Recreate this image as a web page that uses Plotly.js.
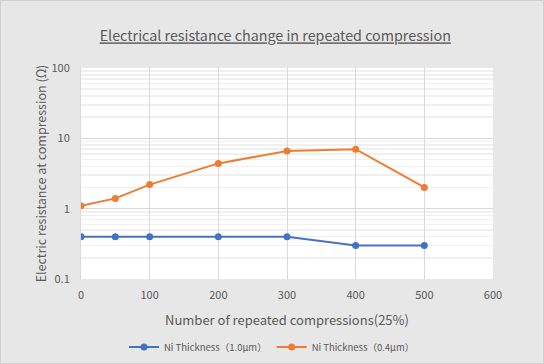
<!DOCTYPE html>
<html>
<head>
<meta charset="utf-8">
<script src="https://cdn.plot.ly/plotly-3.0.1.min.js"></script>
<style>html,body{margin:0;padding:0;background:#e7e7e7;}#wrap{position:relative;width:544px;height:364px;}#chart{width:544px;height:364px;}#frame{position:absolute;left:0;top:0;width:542px;height:362px;border:1px solid #cfcfcf;pointer-events:none;}</style>
</head>
<body>
<div id="wrap"><div id="chart"></div><div id="frame"></div></div>
<script>
const cycles = [0, 50, 100, 200, 300, 400, 500];
const ni10 = [0.4, 0.4, 0.4, 0.4, 0.4, 0.3, 0.3];
const ni04 = [1.1, 1.4, 2.2, 4.4, 6.6, 7.0, 2.0];
const seriesNames = ['Ni Thickness（1.0μm）', 'Ni Thickness（0.4μm）'];
const xTicks = [0, 100, 200, 300, 400, 500, 600];
const yTicks = [0.1, 1, 10, 100];
const yTickText = ['0.1', '1', '10', '100'];

const font = 'Noto Sans CJK JP, Noto Sans, sans-serif';
const grey = '#595959';

const traces = [
  {x: cycles, y: ni10, name: seriesNames[0], type: 'scatter', mode: 'lines+markers',
   line: {color: '#4472c4', width: 2}, marker: {color: '#4472c4', size: 7}},
  {x: cycles, y: ni04, name: seriesNames[1], type: 'scatter', mode: 'lines+markers',
   line: {color: '#ed7d31', width: 2}, marker: {color: '#ed7d31', size: 7}}
];

const layout = {
  width: 544, height: 364,
  paper_bgcolor: '#e7e7e7', plot_bgcolor: '#ffffff',
  margin: {l: 81, r: 51, t: 68, b: 85},
  font: {family: font, color: grey, size: 11},
  title: {text: '<span style="text-decoration:underline">Electrical resistance change in repeated compression</span>',
          font: {family: font, size: 14.3, color: grey}, x: 0.506, xanchor: 'center',
          yref: 'container', y: 0.9, yanchor: 'middle'},
  xaxis: {range: [0, 600], tickvals: xTicks, ticktext: xTicks.map(String), showgrid: true,
          gridcolor: '#d9d9d9', zeroline: false, showline: false, ticks: '', automargin: false,
          ticklabelstandoff: 8,
          title: {text: 'Number of repeated compressions(25%)', font: {size: 13, color: grey}, standoff: 14},
          tickfont: {size: 11, color: grey}},
  yaxis: {type: 'log', range: [-1, 2], tickvals: yTicks, ticktext: yTickText, showgrid: true,
          gridcolor: '#d9d9d9', gridwidth: 1.5, zeroline: false, showline: true, linecolor: '#d9d9d9', ticks: '',
          automargin: false, ticklabelstandoff: 8,
          minor: {dtick: 'D1', showgrid: true, gridcolor: '#f0f0f0', ticks: ''},
          title: {text: 'Electric resistance at compression (Ω)', font: {size: 12.5, color: grey}, standoff: 2},
          tickfont: {size: 11, color: grey}},
  legend: {orientation: 'h', x: 0.5, xref: 'container', xanchor: 'center', yref: 'container', y: 0.047, yanchor: 'middle',
           font: {size: 9.5, color: grey}, bgcolor: 'rgba(0,0,0,0)', itemwidth: 30},
  showlegend: true
};
Plotly.newPlot('chart', traces, layout, {displayModeBar: false, staticPlot: true});
</script>
</body>
</html>
